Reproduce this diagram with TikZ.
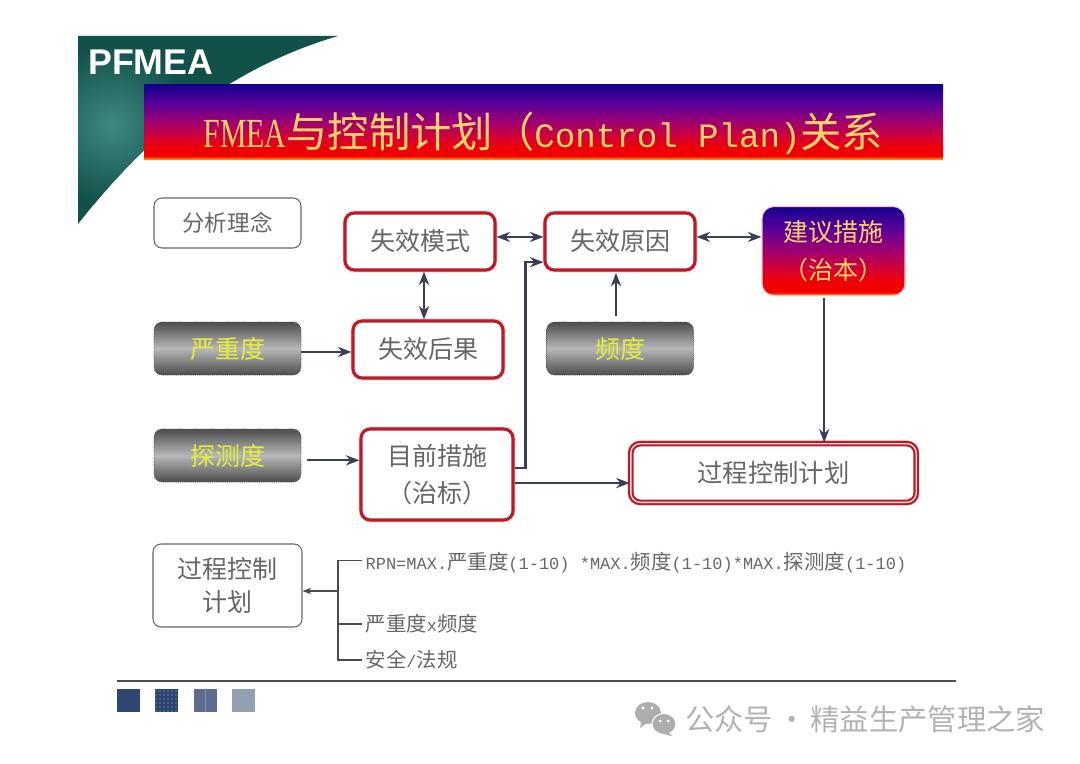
\documentclass[tikz,border=0pt]{standalone}
\usepackage{fontspec}
\usepackage{xcolor}
\setmainfont{Noto Sans CJK SC}
\newfontfamily\latmono{Liberation Mono}
\newfontfamily\latserif[FakeStretch=0.72]{Liberation Serif}
\newfontfamily\latsans{Liberation Sans}
\usetikzlibrary{arrows.meta, positioning, calc, patterns, shapes.misc}

\definecolor{linkink}{HTML}{3A3F58}
\definecolor{boxred}{HTML}{B81C26}
\definecolor{boxglow}{HTML}{F2C4C4}
\definecolor{labelgray}{HTML}{666666}
\definecolor{goldtext}{HTML}{FFD468}
\definecolor{limetext}{HTML}{E6EE3C}
\definecolor{wedgedark}{HTML}{12504A}
\definecolor{wedgelight}{HTML}{3F8A80}
\definecolor{fadetop}{HTML}{14008C}
\definecolor{fadeupper}{HTML}{56009A}
\definecolor{fademid}{HTML}{A00070}
\definecolor{fadelow}{HTML}{DC0028}
\definecolor{fadered}{HTML}{F00000}
\definecolor{fadeedge}{HTML}{FF8A00}

\pgfdeclareverticalshading{titlefade}{100bp}{
  color(0bp)=(fadeedge); color(25bp)=(fadeedge);
  color(27bp)=(fadered); color(32bp)=(fadered); color(38bp)=(fadelow);
  color(50bp)=(fademid); color(63bp)=(fadeupper);
  color(75bp)=(fadetop); color(100bp)=(fadetop)}
\pgfdeclareverticalshading{grayfade}{100bp}{
  color(0bp)=(black!70); color(25bp)=(black!70);
  color(50bp)=(black!28); color(75bp)=(black!70); color(100bp)=(black!70)}

\begin{document}
\begin{tikzpicture}[
    x=0.75pt, y=-0.75pt,
    >=Stealth,
    notebox/.style={rectangle, draw=black!60, line width=0.8pt, rounded corners=6pt, align=center, fill=white, inner sep=0pt, text=labelgray},
    redbox/.style={rectangle, draw=boxred, line width=2.3pt, rounded corners=7pt, align=center, fill=white, inner sep=0pt, text=labelgray, font=\fontsize{18.75}{28}\selectfont, preaction={draw=boxglow, line width=3.6pt}},
    graybox/.style={rectangle, draw=black!70, densely dotted, line width=0.6pt, rounded corners=6pt, shade, shading=grayfade, inner sep=0pt, minimum width=110.25pt, minimum height=39.75pt, text=limetext, font=\fontsize{18.75}{24}\selectfont},
    arrow/.style={->, line width=1.6pt, draw=linkink},
    twoarrow/.style={<->, line width=1.6pt, draw=linkink},
    forkline/.style={line width=0.8pt, draw=black!70},
    listtext/.style={anchor=west, inner xsep=2.5pt, inner ysep=0pt, text=labelgray, font=\fontsize{15.3}{18}\selectfont},
    swatch/.style={rectangle, minimum size=17.25pt, inner sep=0pt}
]
\useasboundingbox (0,0) rectangle (1080,763);

% =============================================================
% Corner Wedge & Title Banner
% =============================================================
\fill[fill=wedgedark] (78,36) -- (338,36) .. controls (223,70) and (144,140) .. (78,224) -- cycle;
\begin{scope}
\clip (78,36) -- (338,36) .. controls (223,70) and (144,140) .. (78,224) -- cycle;
\shade[inner color=wedgelight, outer color=wedgedark] (112,125) circle (80);
\end{scope}
\node[anchor=west, inner sep=0pt, text=white, font=\latsans\bfseries\fontsize{26.8}{30}\selectfont] (brand) at (88,62) {PFMEA};

\node[rectangle, shade, shading=titlefade, inner sep=0pt, minimum width=599.25pt, minimum height=55.5pt] (banner) at (543.5,122) {};
\node[inner sep=0pt, text=goldtext, font=\fontsize{31}{36}\selectfont] (title) at (543.5,133) {{\latserif FMEA}与控制计划（{\latmono\fontsize{25.6}{36}\selectfont Control Plan)}关系};

% =============================================================
% Row 1: Modes and Causes
% =============================================================
\node[notebox, minimum width=110.25pt, minimum height=37.5pt, font=\fontsize{16.9}{22}\selectfont] (idea) at (227.5,223) {分析理念};
\node[redbox, minimum width=112.5pt, minimum height=42.75pt] (mode) at (420,241.5) {失效模式};
\node[redbox, minimum width=112.5pt, minimum height=42.75pt] (cause) at (620,241.5) {失效原因};
\node[rectangle, draw=boxglow, line width=0.8pt, rounded corners=9pt, shade, shading=titlefade, align=center, inner sep=0pt, minimum width=107.25pt, minimum height=66.75pt, text=goldtext, font=\fontsize{18.75}{28.5}\selectfont] (action) at (833.5,251) {建议措施\\（治本）};

% =============================================================
% Row 2: Severity and Occurrence
% =============================================================
\node[graybox] (severity) at (227.5,348.5) {严重度};
\node[redbox, minimum width=112.5pt, minimum height=42.75pt] (effect) at (428,349.5) {失效后果};
\node[graybox] (occurrence) at (620,348.5) {频度};

% =============================================================
% Row 3: Detection and Current Controls
% =============================================================
\node[graybox] (detection) at (227.5,455.5) {探测度};
\node[redbox, minimum width=114pt, minimum height=68.25pt] (current) at (437,474.5) {目前措施\\（治标）};
\node[rectangle, draw=boxred, line width=1.6pt, double=boxglow!60!white, double distance=1pt, rounded corners=7pt, fill=white, inner sep=0pt, minimum width=214pt, minimum height=44pt, text=labelgray, font=\fontsize{19}{24}\selectfont, preaction={draw=boxglow, line width=5pt}] (plan) at (773.5,473) {过程控制计划};

% Connections
\draw[twoarrow] ([yshift=3.4pt]mode.east) -- ([yshift=3.4pt]cause.west);
\draw[twoarrow] ([yshift=3.4pt]cause.east) -- ([yshift=3.4pt]cause.east -| action.west);
\draw[twoarrow] ([xshift=3pt]mode.south) -- ([xshift=-3pt]effect.north);
\draw[arrow] ([xshift=-3pt,yshift=4.5pt]occurrence.north) -- ([xshift=-3pt,yshift=-1pt]occurrence.north |- cause.south);
\draw[arrow] ([yshift=-2.6pt]severity.east) -- ([yshift=-2.6pt]severity.east -| effect.west);
\draw[arrow] ([xshift=4pt,yshift=-3.6pt]detection.east) -- ([yshift=-3.6pt]detection.east -| current.west);
\draw[arrow] ([yshift=4.9pt]current.east) -- ++(8.25pt,0) |- ([yshift=-15.5pt]cause.west);
\draw[arrow] ([yshift=-6.4pt]current.east) -- ([yshift=-6.4pt]current.east -| plan.west);
\draw[arrow] ([xshift=-7pt,yshift=-1.5pt]action.south) -- ([xshift=-7pt]action.south |- plan.north);

% =============================================================
% Bottom List
% =============================================================
\node[notebox, minimum width=111.75pt, minimum height=62.25pt, font=\fontsize{18.75}{25}\selectfont] (rule) at (227.5,585.5) {过程控制\\计划};
\node[listtext] (rpn) at (362,563) {{\latmono\fontsize{12.75}{18}\selectfont RPN=MAX.}严重度{\latmono\fontsize{12.75}{18}\selectfont (1-10) *MAX.}频度{\latmono\fontsize{12.75}{18}\selectfont (1-10)*MAX.}探测度{\latmono\fontsize{12.75}{18}\selectfont (1-10)}};
\node[listtext] (sevfreq) at (362,624) {严重度{\latmono\fontsize{12.75}{18}\selectfont x}频度};
\node[listtext] (safety) at (362,660) {安全{\latmono\fontsize{12.75}{18}\selectfont /}法规};
\coordinate (fork) at (338,591);
\draw[forkline] ([yshift=2.2pt]rpn.west) -| (fork);
\draw[forkline] (safety.west) -| (fork);
\draw[forkline] (sevfreq.west) -- (sevfreq.west -| fork);
\draw[->, forkline] (fork) -- (fork -| rule.east);

% =============================================================
% Footer Rule, Swatches & Watermark
% =============================================================
\coordinate (ruleleft) at (117,681);
\coordinate (ruleright) at (956,681);
\draw[line width=0.8pt, draw=black!70] (ruleleft) -- (ruleright);
\node[swatch, fill={rgb,255:red,47;green,72;blue,114}] (swatchA) at (128.5,700.5) {};
\node[swatch, fill={rgb,255:red,43;green,68;blue,112}] (swatchB) at (166.5,700.5) {};
\fill[pattern=dots, pattern color=white!70!blue] (swatchB.south west) rectangle (swatchB.north east);
\node[swatch, fill={rgb,255:red,93;green,108;blue,144}] (swatchC) at (205.5,700.5) {};
\draw[line width=0.5pt, draw=white!60!blue!40!gray] (swatchC.north) -- (swatchC.south);
\node[swatch, fill={rgb,255:red,147;green,160;blue,176}] (swatchD) at (243.5,700.5) {};

\fill[black!32] (648,713) ellipse (13 and 11);
\fill[black!32] (641,722) -- (640,728) -- (647,723) -- cycle;
\fill[black!32, draw=white, line width=0.8pt] (664,724) ellipse (12 and 10.5);
\fill[black!32] (669,733) -- (672,736) -- (663,734) -- cycle;
\fill[white] (643,708) circle (1.6) (652,708) circle (1.6) (660,721) circle (1.5) (668,721) circle (1.5);
\node[anchor=west, inner sep=0pt, text=black!30, font=\fontsize{22}{26}\selectfont] (mark) at (685,719) {公众号\hspace{3pt}·\hspace{3pt}精益生产管理之家};

\end{tikzpicture}
\end{document}
